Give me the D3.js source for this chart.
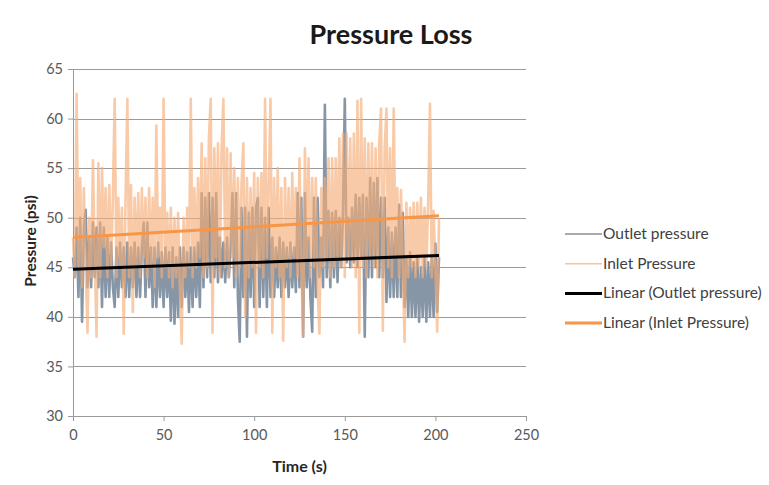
<!DOCTYPE html>
<html>
<head>
<meta charset="utf-8">
<script src="https://cdn.jsdelivr.net/npm/d3@7"></script>
<style>
  body { margin: 0; background: #fff; }
  text { font-family: Lato, "Open Sans", sans-serif; }
</style>
</head>
<body>
<script>
// pressure readings, one per second (t = 0 .. 202)
var inletPressure = [
  48, 44, 62.5, 45, 54, 43, 53, 45, 38.4, 50,
  44, 55.8, 46, 38, 55.5, 44, 55, 47, 53, 44,
  53.3, 45, 52, 62, 44, 52, 45, 51, 38.3, 52,
  62, 44, 53.3, 40.5, 52, 45, 52.5, 44, 53, 46,
  52, 44, 53, 45, 52, 43, 59.3, 46, 51, 44,
  62, 45, 50.5, 44, 51, 43, 50, 44, 50.5, 43,
  37.3, 50, 44, 51, 45, 62, 44, 53, 45, 54,
  46, 57.5, 44, 56, 45, 58, 62, 38.4, 57, 46,
  57.5, 44, 57, 62, 45, 57, 44, 56.5, 46, 55,
  44, 54, 45, 53.5, 57.5, 40, 54, 44, 53, 45,
  54.5, 38.4, 54, 45, 54.5, 44, 62, 46, 53, 62,
  38.4, 54, 45, 55, 44, 53, 37.6, 54, 45, 53,
  44, 54.5, 46, 53, 44, 56, 45, 38, 57, 46,
  56, 44, 54, 45, 54, 43, 38.3, 53, 45, 54,
  46, 56, 44, 56, 45, 56, 46, 58, 45, 58.5,
  44, 58.5, 46, 58, 45, 58.5, 44, 61.8, 38.4, 62,
  45, 58, 44, 57.5, 46, 57.5, 45, 57, 44, 57.5,
  61, 38.6, 57, 61, 45, 57, 44, 61, 46, 53,
  44, 52.8, 45, 37.5, 51.5, 44, 51, 45, 51.5, 44,
  51.5, 45, 52, 44, 51, 45, 51.5, 61.5, 44, 50.7,
  45, 38.5, 50
];

var outletPressure = [
  46, 44, 49, 42, 50, 39.5, 49, 50.8, 43, 48,
  43, 49.5, 44, 49, 43, 49.5, 41, 49, 42, 48,
  42, 47.5, 43, 41, 47, 42, 47.5, 43, 47, 42,
  47.5, 42, 47, 43, 47.5, 42, 47, 42, 47, 49.5,
  42, 49.5, 43, 47, 41, 47, 41, 47.5, 42, 46.5,
  41, 47, 42, 46.5, 39.6, 47, 39.3, 46, 40, 47,
  41, 47, 42, 46.5, 40.5, 47, 41, 47, 42, 47.5,
  41, 52.5, 43, 52, 44, 52.5, 43.5, 52, 44, 52.5,
  43.5, 48, 44, 47.5, 43.5, 48, 44, 47, 52.5, 43,
  52.5, 42, 37.5, 51, 42, 51, 38, 50.5, 42, 51,
  41, 51, 52, 41, 51, 42, 50, 41, 51, 42,
  48, 42, 47, 43, 48, 42, 47.5, 43, 47, 42,
  47.5, 43, 47, 42.5, 52.5, 43, 52, 38, 52.5, 43,
  48, 42, 38.5, 52, 42, 52, 44, 48, 43, 61.4,
  44, 50.7, 43, 50.5, 44, 50.7, 43.5, 50, 45, 50.5,
  62, 45.5, 50, 45, 51, 45.5, 52.3, 45, 52, 46,
  52.3, 38, 52, 44, 54, 44, 53.5, 45, 54, 44,
  52, 44, 52, 41.5, 49, 42, 48.5, 42, 49, 42,
  51.3, 42, 50.5, 41, 46, 40, 46.5, 40, 45.5, 40,
  46, 39.5, 45, 40, 46, 39.5, 45.5, 40, 46, 40,
  47.4, 40.5, 46
];

// trendline end points
var trendTime = [0, 202];
var outletTrend = [44.8, 46.2];
var inletTrend = [48.0, 50.2];

var yTicks = [30, 35, 40, 45, 50, 55, 60, 65];
var xTicks = [0, 50, 100, 150, 200, 250];

var legendNames = ["Outlet pressure", "Inlet Pressure", "Linear (Outlet pressure)", "Linear (Inlet Pressure)"];
var legendColors = ["#8a8f96", "#f9c49a", "#000000", "#f79646"];
var legendWidths = [1.5, 1.5, 3, 3];

var W = 769, H = 485;
var margin = { top: 69, right: 243, bottom: 69, left: 73 };
var width = W - margin.left - margin.right;
var height = H - margin.top - margin.bottom;

var svg = d3.select("body").append("svg")
    .attr("width", W)
    .attr("height", H);

svg.append("rect").attr("width", W).attr("height", H).attr("fill", "#fff");

var g = svg.append("g")
    .attr("transform", "translate(" + margin.left + "," + margin.top + ")");

var x = d3.scaleLinear().domain([0, 250]).range([0, width]);
var y = d3.scaleLinear().domain([30, 65]).range([height, 0]);

// gridlines
g.append("g")
    .selectAll("line")
    .data(yTicks.filter(function(d) { return d > 30; }))
    .enter()
    .append("line")
    .attr("x1", 0)
    .attr("x2", width)
    .attr("y1", function(d) { return Math.round(y(d)) + 0.5; })
    .attr("y2", function(d) { return Math.round(y(d)) + 0.5; })
    .attr("stroke", "#9a9a9a")
    .attr("stroke-width", 1);

// y axis
g.append("g")
    .attr("class", "axis y-axis")
    .call(d3.axisLeft(y).tickValues(yTicks).tickSize(5).tickPadding(5));

// x axis
g.append("g")
    .attr("class", "axis x-axis")
    .attr("transform", "translate(0," + height + ")")
    .call(d3.axisBottom(x).tickValues(xTicks).tickSize(5).tickPadding(9));

svg.selectAll(".axis path, .axis line").attr("stroke", "#9a9a9a");
svg.selectAll(".axis text")
    .attr("fill", "#595959")
    .style("font-size", "14.5px")
    .style("font-family", "Lato, 'Open Sans', sans-serif");

var line = d3.line()
    .x(function(d, i) { return x(i); })
    .y(function(d) { return y(d); });

g.append("path")
    .datum(outletPressure)
    .attr("d", line)
    .attr("fill", "none")
    .attr("stroke", "#8796a6")
    .attr("stroke-width", 2.6)
    .attr("stroke-linejoin", "round");

g.append("path")
    .datum(inletPressure)
    .attr("d", line)
    .attr("fill", "none")
    .attr("stroke", "#f6ae78")
    .attr("stroke-opacity", 0.65)
    .attr("stroke-width", 2.6)
    .attr("stroke-linejoin", "round");

var trendLine = d3.line()
    .x(function(d, i) { return x(trendTime[i]); })
    .y(function(d) { return y(d); });

g.append("path")
    .datum(outletTrend)
    .attr("d", trendLine)
    .attr("fill", "none")
    .attr("stroke", "#000")
    .attr("stroke-width", 3);

g.append("path")
    .datum(inletTrend)
    .attr("d", trendLine)
    .attr("fill", "none")
    .attr("stroke", "#f79646")
    .attr("stroke-width", 3);

// title + axis titles
svg.append("text")
    .attr("x", 391)
    .attr("y", 44)
    .attr("text-anchor", "middle")
    .style("font-size", "27px")
    .style("font-weight", "bold")
    .attr("fill", "#1a1a1a")
    .text("Pressure Loss");

svg.append("text")
    .attr("transform", "translate(36,241) rotate(-90)")
    .attr("text-anchor", "middle")
    .style("font-size", "15.5px")
    .style("font-weight", "bold")
    .attr("fill", "#262626")
    .text("Pressure (psi)");

svg.append("text")
    .attr("x", margin.left + width / 2)
    .attr("y", 472)
    .attr("text-anchor", "middle")
    .style("font-size", "16px")
    .style("font-weight", "bold")
    .attr("fill", "#262626")
    .text("Time (s)");

// legend
var legend = svg.append("g")
    .selectAll("g")
    .data(legendNames)
    .enter()
    .append("g")
    .attr("transform", function(d, i) { return "translate(565," + (234 + i * 29.7) + ")"; });

legend.append("line")
    .attr("x1", 0)
    .attr("x2", 37)
    .attr("stroke", function(d, i) { return legendColors[i]; })
    .attr("stroke-width", function(d, i) { return legendWidths[i]; });

legend.append("text")
    .attr("x", 38)
    .attr("y", 5)
    .style("font-size", "15.5px")
    .attr("fill", "#404040")
    .text(function(d) { return d; });
</script>
</body>
</html>
